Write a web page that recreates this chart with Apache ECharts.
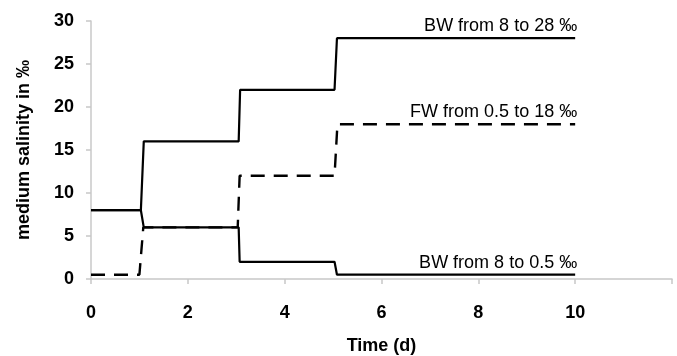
<!DOCTYPE html>
<html>
<head>
<meta charset="utf-8">
<script src="https://cdn.jsdelivr.net/npm/echarts@6/dist/echarts.min.js"></script>
<style>html,body{margin:0;padding:0;background:#fff;}#c{width:677px;height:356px;}</style>
</head>
<body>
<div id="c"></div>
<script>
// Data
const timeBWhigh = [0, 1.03, 1.09, 3.05, 3.08, 5.03, 5.08, 10];
const bwHigh     = [8, 8, 16, 16, 22, 22, 28, 28];
const timeBWlow  = [0, 1.03, 1.09, 3.05, 3.07, 5.03, 5.08, 10];
const bwLow      = [8, 8, 6, 6, 2, 2, 0.5, 0.5];
const timeFW     = [0, 1.0, 1.08, 3.03, 3.07, 5.03, 5.09, 10];
const fw         = [0.5, 0.5, 6, 6, 12, 12, 18, 18];
const seriesNames = ['BW from 8 to 28 ‰', 'FW from 0.5 to 18 ‰', 'BW from 8 to 0.5 ‰'];
const xTicks = [0, 2, 4, 6, 8, 10];
const yTicks = [0, 5, 10, 15, 20, 25, 30];
const xAxisName = 'Time (d)';
const yAxisName = 'medium salinity in ‰';

const FONT = '"Liberation Sans", Arial, sans-serif';

function pairs(xs, ys) {
  return xs.map((x, i) => [x, ys[i]]);
}
function endLbl(name) {
  return {
    show: true, formatter: name, align: 'right', verticalAlign: 'middle',
    distance: 0, offset: [2, -12], color: '#000', fontFamily: FONT, fontSize: 18
  };
}

const chart = echarts.init(document.getElementById('c'), null, { renderer: 'canvas' });
chart.setOption({
  animation: false,
  backgroundColor: '#fff',
  grid: { left: 91, right: 5, top: 21, bottom: 77, containLabel: false, outerBoundsMode: 'none' },
  xAxis: {
    type: 'value', min: 0, max: 12, interval: 2,
    name: xAxisName, nameLocation: 'middle', nameGap: 58,
    nameTextStyle: { fontFamily: FONT, fontSize: 18, fontWeight: 'bold', color: '#000' },
    axisLine: { show: true, lineStyle: { color: '#c8c8c8', width: 1.5 } },
    axisTick: { show: true, inside: false, length: 5, lineStyle: { color: '#c8c8c8', width: 1.5 } },
    splitLine: { show: false },
    axisLabel: {
      margin: 25, fontFamily: FONT, fontSize: 18, fontWeight: 'bold', color: '#000',
      formatter: v => xTicks.indexOf(v) >= 0 ? String(v) : ''
    }
  },
  yAxis: {
    type: 'value', min: 0, max: 30, interval: 5,
    name: yAxisName, nameLocation: 'middle', nameGap: 58, nameRotate: 90,
    nameTextStyle: { fontFamily: FONT, fontSize: 18, fontWeight: 'bold', color: '#000' },
    axisLine: { show: true, lineStyle: { color: '#c8c8c8', width: 1.5 } },
    axisTick: { show: true, inside: false, length: 5, lineStyle: { color: '#c8c8c8', width: 1.5 } },
    splitLine: { show: false },
    axisLabel: {
      margin: 17, fontFamily: FONT, fontSize: 18, fontWeight: 'bold', color: '#000',
      formatter: v => yTicks.indexOf(v) >= 0 ? String(v) : ''
    }
  },
  series: [
    {
      name: seriesNames[0], type: 'line', symbol: 'none', data: pairs(timeBWhigh, bwHigh),
      lineStyle: { color: '#000', width: 2.2 }, endLabel: endLbl(seriesNames[0]), z: 3
    },
    {
      name: seriesNames[1], type: 'line', symbol: 'none', data: pairs(timeFW, fw),
      lineStyle: { color: '#000', width: 2.4, type: [14, 9] }, endLabel: endLbl(seriesNames[1]), z: 2
    },
    {
      name: seriesNames[2], type: 'line', symbol: 'none', data: pairs(timeBWlow, bwLow),
      lineStyle: { color: '#000', width: 2.2 }, endLabel: endLbl(seriesNames[2]), z: 3
    }
  ]
});
</script>
</body>
</html>
